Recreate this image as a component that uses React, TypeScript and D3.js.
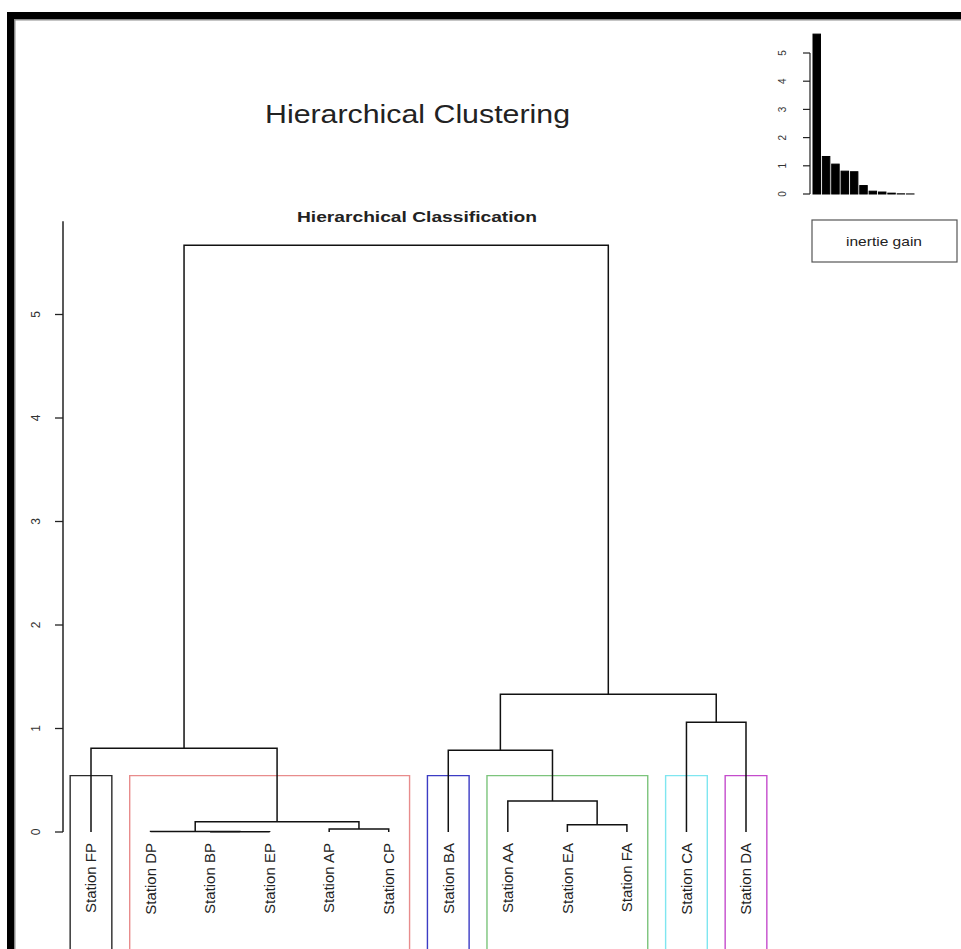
import React from "react";
import * as d3 from "d3";

// Leaves in dendrogram order
const leafLabels = [
  "Station FP", "Station DP", "Station BP", "Station EP", "Station AP", "Station CP",
  "Station BA", "Station AA", "Station EA", "Station FA", "Station CA", "Station DA",
];

// hclust-style merge table: negative = leaf (1-based), positive = earlier merge (1-based)
const mergeLeft = [-3, -2, -5, -9, 2, -8, -1, -7, -11, 8, 7];
const mergeRight = [-4, 1, -6, -10, 3, 4, 5, 6, -12, 9, 10];
const mergeHeight = [0.002, 0.006, 0.03, 0.07, 0.1, 0.3, 0.81, 0.79, 1.06, 1.33, 5.67];

const yTicks = [0, 1, 2, 3, 4, 5];
const insetTicks = [0, 1, 2, 3, 4, 5];
const clusterColors = ["#2a2a2a", "#e88c8c", "#3c3cc4", "#7cc47c", "#7fe6f0", "#c44ccc"];
const nClusters = 6;

const FONT = "'Liberation Sans', Arial, Helvetica, sans-serif";

export default function App() {
  const W = 961;
  const H = 949;

  // main dendrogram scales
  const x = d3.scalePoint<string>().domain(leafLabels).range([91, 746]);
  const y = d3.scaleLinear().domain([0, 5]).range([832, 314.5]);

  // compute node positions
  const nodeX: number[] = [];
  const childX = (c: number) => (c < 0 ? (x(leafLabels[-c - 1]) as number) : nodeX[c - 1]);
  const childH = (c: number) => (c < 0 ? 0 : mergeHeight[c - 1]);
  const segments: string[] = [];
  mergeHeight.forEach((h, i) => {
    const l = mergeLeft[i];
    const r = mergeRight[i];
    const xl = childX(l);
    const xr = childX(r);
    nodeX[i] = (xl + xr) / 2;
    segments.push(
      `M${xl},${y(childH(l))}V${y(h)}H${xr}V${y(childH(r))}`
    );
  });

  // cut the tree into clusters
  const sortedH = [...mergeHeight].sort((a, b) => a - b);
  const n = leafLabels.length;
  const cut = (sortedH[n - nClusters - 1] + sortedH[n - nClusters]) / 2;
  const clusters: number[][] = [];
  const leavesOf = (c: number): number[] =>
    c < 0 ? [-c - 1] : [...leavesOf(mergeLeft[c - 1]), ...leavesOf(mergeRight[c - 1])];
  const walk = (c: number) => {
    if (c < 0 || mergeHeight[c - 1] < cut) {
      clusters.push(leavesOf(c));
    } else {
      walk(mergeLeft[c - 1]);
      walk(mergeRight[c - 1]);
    }
  };
  walk(mergeHeight.length);
  clusters.sort((a, b) => Math.min(...a) - Math.min(...b));
  const half = x.step() * 0.35;

  // inset: inertia gain bar chart
  const gains = [...mergeHeight].sort((a, b) => b - a);
  const xb = d3.scaleBand<number>().domain(gains.map((_, i) => i)).range([813, 914]).paddingInner(0.2);
  const yb = d3.scaleLinear().domain([0, 5]).range([194, 53]);

  return (
    <div style={{ position: "fixed", left: 0, top: 0, width: W, height: H, background: "#fff" }}>
      <svg width={W} height={H} style={{ display: "block" }}>
        <rect x={0} y={0} width={W} height={H} fill="#fff" />
        {/* frame */}
        <rect x={7} y={12} width={W} height={H} fill="#000" />
        <rect x={14} y={19} width={W} height={H} fill="#8a8a8a" />
        <rect x={15.5} y={20.5} width={W} height={H} fill="#fff" />

        {/* titles */}
        <text x={417.5} y={123} fontFamily={FONT} fontSize={26} fill="#222" textAnchor="middle"
          textLength={305} lengthAdjust="spacingAndGlyphs">Hierarchical Clustering</text>
        <text x={417} y={222} fontFamily={FONT} fontSize={15} fontWeight="bold" fill="#222" textAnchor="middle"
          textLength={240} lengthAdjust="spacingAndGlyphs">Hierarchical Classification</text>

        {/* y axis */}
        <line x1={63} x2={63} y1={y(0)} y2={y(5.9)} stroke="#222" strokeWidth={1.5} />
        {yTicks.map((t) => (
          <g key={t}>
            <line x1={55} x2={63} y1={y(t)} y2={y(t)} stroke="#222" strokeWidth={1.3} />
            <text transform={`translate(36,${y(t)}) rotate(-90)`} textAnchor="middle" dy="0.35em"
              fontFamily={FONT} fontSize={12} fill="#333">{t}</text>
          </g>
        ))}

        {/* cluster boxes */}
        {clusters.map((c, i) => {
          const x0 = (x(leafLabels[Math.min(...c)]) as number) - half;
          const x1 = (x(leafLabels[Math.max(...c)]) as number) + half;
          return (
            <path key={i} d={`M${x0},${H + 10}V${y(cut)}H${x1}V${H + 10}`} fill="none"
              stroke={clusterColors[i]} strokeWidth={1.4} />
          );
        })}

        {/* dendrogram */}
        {segments.map((d, i) => (
          <path key={i} d={d} fill="none" stroke="#111" strokeWidth={1.5} />
        ))}

        {/* leaf labels */}
        {leafLabels.map((l) => (
          <text key={l} transform={`translate(${x(l)},843) rotate(-90)`} textAnchor="end" dy="0.35em"
            fontFamily={FONT} fontSize={15} fill="#222">{l}</text>
        ))}

        {/* inset bar chart */}
        <line x1={810} x2={810} y1={yb(0)} y2={yb(5)} stroke="#222" strokeWidth={1.2} />
        {insetTicks.map((t) => (
          <g key={t}>
            <line x1={803} x2={810} y1={yb(t)} y2={yb(t)} stroke="#222" strokeWidth={1.2} />
            <text transform={`translate(782,${yb(t)}) rotate(-90)`} textAnchor="middle" dy="0.35em"
              fontFamily={FONT} fontSize={10} fill="#333">{t}</text>
          </g>
        ))}
        {gains.map((g, i) => (
          <rect key={i} x={xb(i)} y={yb(g)} width={xb.bandwidth()} height={yb(0) - yb(g)}
            fill="#000" stroke="#000" strokeWidth={1} />
        ))}
        <rect x={812} y={220} width={145} height={42} fill="#fff" stroke="#555" strokeWidth={1.2} />
        <text x={884} y={246} textAnchor="middle" fontFamily={FONT} fontSize={13} fill="#222"
          textLength={76} lengthAdjust="spacingAndGlyphs">inertie gain</text>
      </svg>
    </div>
  );
}
